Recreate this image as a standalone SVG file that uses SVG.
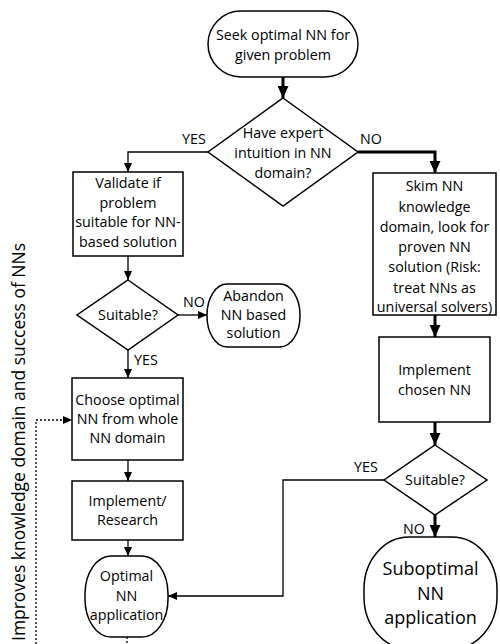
<svg xmlns="http://www.w3.org/2000/svg" width="500" height="644" viewBox="0 0 500 644">
<style>
.shape{fill:#fff;stroke:#000;stroke-width:1.5}
.t{font-family:"Open Sans","Noto Sans",sans-serif;font-size:14.3px;fill:#000;text-anchor:middle}
.lbl{font-family:"Open Sans","Noto Sans",sans-serif;font-size:14.3px;fill:#000}
.big{font-size:18px}
.thin{fill:none;stroke:#000;stroke-width:1.3}
.thick{fill:none;stroke:#000;stroke-width:3}
.dot{fill:none;stroke:#000;stroke-width:1.3;stroke-dasharray:2,2}
</style>
<defs>
<marker id="aT" markerUnits="userSpaceOnUse" markerWidth="9" markerHeight="8" refX="9" refY="4" orient="auto"><path d="M0,0 L9,4 L0,8 z" fill="#000"/></marker>
<marker id="aK" markerUnits="userSpaceOnUse" markerWidth="12" markerHeight="11" refX="12" refY="5.5" orient="auto"><path d="M0,0 L12,5.5 L0,11 z" fill="#000"/></marker>
</defs>
<rect width="500" height="644" fill="#fff"/>

<g id="connectors">
<line class="thick" x1="283" y1="77" x2="283" y2="98" marker-end="url(#aK)"/>
<polyline class="thin" points="208,152 128,152 128,172" marker-end="url(#aT)"/>
<polyline class="thick" points="358,152 435,152 435,173" marker-end="url(#aK)"/>
<line class="thin" x1="128" y1="256" x2="128" y2="280" marker-end="url(#aT)"/>
<line class="thin" x1="178" y1="315" x2="207" y2="315" marker-end="url(#aT)"/>
<line class="thin" x1="128" y1="350" x2="128" y2="378" marker-end="url(#aT)"/>
<line class="thin" x1="128" y1="460" x2="128" y2="481" marker-end="url(#aT)"/>
<line class="thin" x1="128" y1="540" x2="128" y2="556" marker-end="url(#aT)"/>
<line class="thick" x1="435" y1="315" x2="435" y2="337" marker-end="url(#aK)"/>
<line class="thick" x1="435" y1="422" x2="435" y2="445" marker-end="url(#aK)"/>
<polyline class="thin" points="384,480 283,480 283,596 168,596" marker-end="url(#aT)"/>
<line class="thick" x1="435" y1="515" x2="435" y2="537" marker-end="url(#aK)"/>
<polyline class="dot" points="36,644 36,420 72,420" marker-end="url(#aT)"/>
<line class="dot" x1="127" y1="637" x2="127" y2="644"/>
<text class="lbl" x="182" y="144">YES</text>
<text class="lbl" x="360" y="144">NO</text>
<text class="lbl" x="183" y="307">NO</text>
<text class="lbl" x="134" y="365">YES</text>
<text class="lbl" x="354" y="472">YES</text>
<text class="lbl" x="403" y="534">NO</text>
</g>

<g id="start">
<rect class="shape" x="208" y="11" width="150" height="66" rx="33" ry="33"/>
<text class="t" x="283" y="40">Seek optimal NN for</text>
<text class="t" x="283" y="60">given problem</text>
</g>

<g id="expert">
<polygon class="shape" points="283,98 358,152 283,206 208,152"/>
<text class="t" x="283" y="138">Have expert</text>
<text class="t" x="283" y="158">intuition in NN</text>
<text class="t" x="283" y="178">domain?</text>
</g>

<g id="validate">
<rect class="shape" x="73" y="172" width="110" height="84"/>
<text class="t" x="128" y="188">Validate if</text>
<text class="t" x="128" y="207.5">problem</text>
<text class="t" x="128" y="227">suitable for NN-</text>
<text class="t" x="128" y="246.5">based solution</text>
</g>

<g id="suitable1">
<polygon class="shape" points="128,280 178,315 128,350 77,315"/>
<text class="t" x="128" y="320">Suitable?</text>
</g>

<g id="abandon">
<rect class="shape" x="207" y="284" width="93" height="63" rx="20" ry="31"/>
<text class="t" x="253.5" y="301">Abandon</text>
<text class="t" x="253.5" y="320">NN based</text>
<text class="t" x="253.5" y="338">solution</text>
</g>

<g id="choose">
<rect class="shape" x="72" y="378" width="111" height="82"/>
<text class="t" x="127.5" y="405">Choose optimal</text>
<text class="t" x="127.5" y="424">NN from whole</text>
<text class="t" x="127.5" y="443">NN domain</text>
</g>

<g id="research">
<rect class="shape" x="72" y="481" width="111" height="59"/>
<text class="t" x="127.5" y="506">Implement/</text>
<text class="t" x="127.5" y="525">Research</text>
</g>

<g id="optimal">
<rect class="shape" x="85" y="556" width="83" height="81" rx="26" ry="38"/>
<text class="t" x="126.5" y="581">Optimal</text>
<text class="t" x="126.5" y="601">NN</text>
<text class="t" x="126.5" y="620">application</text>
</g>

<g id="skim">
<rect class="shape" x="373" y="173" width="123" height="142"/>
<text class="t" x="434.5" y="191">Skim NN</text>
<text class="t" x="434.5" y="212">knowledge</text>
<text class="t" x="434.5" y="232">domain, look for</text>
<text class="t" x="434.5" y="252">proven NN</text>
<text class="t" x="434.5" y="272">solution (Risk:</text>
<text class="t" x="434.5" y="293">treat NNs as</text>
<text class="t" x="434.5" y="312">universal solvers)</text>
</g>

<g id="implement">
<rect class="shape" x="379" y="337" width="111" height="85"/>
<text class="t" x="434.5" y="375">Implement</text>
<text class="t" x="434.5" y="395">chosen NN</text>
</g>

<g id="suitable2">
<polygon class="shape" points="435,445 487,480 435,515 384,480"/>
<text class="t" x="435" y="485">Suitable?</text>
</g>

<g id="suboptimal">
<rect class="shape" x="364" y="537" width="133" height="112" rx="45" ry="52"/>
<text class="t big" x="430.5" y="575">Suboptimal</text>
<text class="t big" x="430.5" y="600">NN</text>
<text class="t big" x="430.5" y="624">application</text>
</g>

<g id="feedback-label">
<text class="t" transform="translate(25,442) rotate(-90)" x="0" y="0" style="font-size:17.5px" textLength="398" lengthAdjust="spacingAndGlyphs">Improves knowledge domain and success of NNs</text>
</g>
</svg>
